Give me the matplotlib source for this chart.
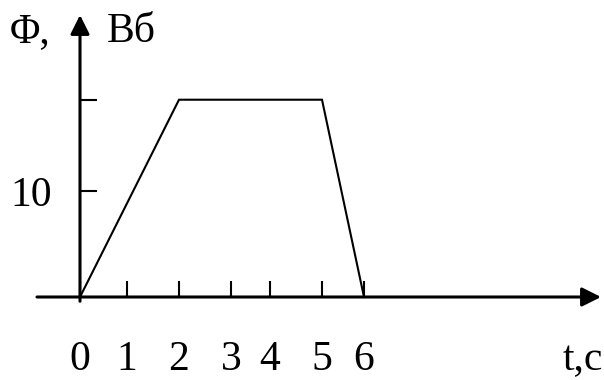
import numpy as np
import matplotlib
matplotlib.use('Agg')
from matplotlib import pyplot as plt

# flux vs time (trapezoid)
t = [0, 2, 5, 6]
phi = [0, 18.7, 18.7, 0]
x_ticks = [0, 1, 2, 3, 4, 5, 6]
x_labels = ['0', '1', '2', '3', '4', '5', '6']
y_ticks = [10, 18.7]
y_labels = ['10', '']

# the original drawing is not evenly spaced on t, so use a piecewise scale
t_knots = [-3, 0, 1, 2, 3, 4, 5, 6, 13]
px_knots = [-64, 80, 127, 179, 231, 270, 322, 364, 700]

def fwd(v):
    return np.interp(v, t_knots, px_knots)

def inv(p):
    return np.interp(p, px_knots, t_knots)

W, H = 604, 380
y0, ky = 297, 10.55  # pixel row of zero, pixels per unit

plt.rcParams['font.family'] = ['Liberation Serif', 'DejaVu Serif']
fig = plt.figure(figsize=(W / 100, H / 100), dpi=100)
ax = fig.add_axes([0, 0, 1, 1])
ax.set_xscale('function', functions=(fwd, inv))
ax.set_xlim(inv(0), inv(W))
ax.set_ylim((y0 - H) / ky, y0 / ky)

ax.plot(t, phi, color='black', lw=1.5, solid_joinstyle='miter')

for s in ax.spines.values():
    s.set_visible(False)
ax.spines['left'].set_position(('data', 0))
ax.spines['bottom'].set_position(('data', 0))

arrow = dict(arrowstyle='-|>,head_length=0.72,head_width=0.36', lw=2.2,
             color='black', shrinkA=0, shrinkB=0, mutation_scale=16)
ax.annotate('', xy=(inv(601), 0), xytext=(inv(37), 0), arrowprops=arrow)
ax.annotate('', xy=(0, (y0 - 15) / ky), xytext=(0, -0.4), arrowprops=arrow)

ax.set_xticks(x_ticks, x_labels)
ax.set_yticks(y_ticks, y_labels)
ax.tick_params(axis='x', direction='in', length=11.5, width=1.5, pad=31,
               labelsize=30)
ax.tick_params(axis='y', direction='in', length=12, width=1.5, pad=20,
               labelsize=30)
ax.minorticks_off()

fig.text(10 / W, 1 - 42 / H, 'Φ,', fontsize=30, va='baseline')
fig.text(107 / W, 1 - 42 / H, 'Вб', fontsize=30, va='baseline')
fig.text(563 / W, 1 - 370 / H, 't,c', fontsize=30, va='baseline')

fig.savefig('out.png', dpi=100)
